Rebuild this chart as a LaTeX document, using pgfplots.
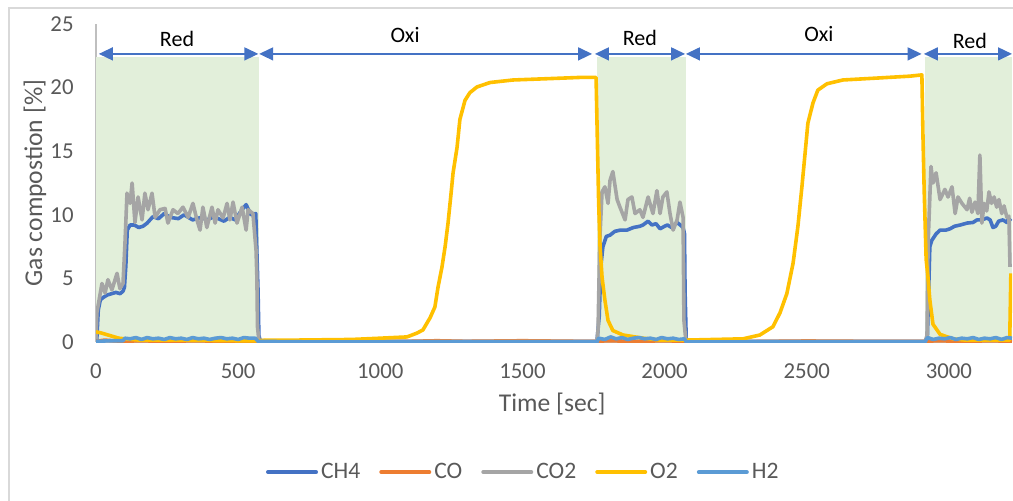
\documentclass[border=0pt]{standalone}
\usepackage{pgfplots}
\pgfplotsset{compat=1.18}
\usepackage{fontspec}
\setmainfont{Carlito}
\usetikzlibrary{arrows.meta}
\definecolor{cch}{HTML}{4472C4}
\definecolor{cco}{HTML}{ED7D31}
\definecolor{ccotwo}{HTML}{A5A5A5}
\definecolor{cot}{HTML}{FFC000}
\definecolor{chh}{HTML}{5B9BD5}
\definecolor{txtgray}{HTML}{595959}
\definecolor{axgray}{HTML}{BFBFBF}
\definecolor{bordgray}{HTML}{D9D9D9}
\definecolor{redbg}{HTML}{E2EFDA}
\begin{document}
\begin{tikzpicture}
\useasboundingbox (0,0) rectangle (506.5pt,250pt);
\draw[bordgray, line width=1pt] (4.3pt,-10pt) rectangle (530pt,246pt);
\begin{axis}[
  at={(48pt,79pt)}, anchor=south west,
  width=458pt, height=159pt, scale only axis,
  xmin=0, xmax=3222, ymin=0, ymax=25,
  xtick={0,500,...,3000}, ytick={0,5,...,25},
  major tick length=0pt,
  axis x line*=bottom, axis y line*=left,
  axis line style={-, draw=axgray, line width=1pt},
  /pgf/number format/assume math mode=true,
  /pgf/number format/1000 sep={},
  tick label style={font=\fontsize{11.4}{13}\selectfont, text=txtgray},
  xticklabel style={inner sep=0pt, yshift=-10.5pt},
  yticklabel style={inner sep=0pt, xshift=-11pt},
  xlabel={Time [sec]}, ylabel={Gas compostion [\%]},
  label style={font=\fontsize{12.8}{15}\selectfont, text=txtgray},
  xlabel style={at={(axis description cs:0.498,-0.195)}, anchor=center},
  ylabel style={at={(axis description cs:-0.0666,0.5)}, anchor=center},
  legend style={at={(axis description cs:0.467,-0.409)}, anchor=center, draw=none, fill=none,
    font=\fontsize{11.8}{13}\selectfont, text=txtgray, nodes={inner sep=1.5pt},
    /tikz/every even column/.append style={column sep=8pt}},
  legend columns=5,
  legend image code/.code={\draw[#1, line width=2pt, line cap=round] (0pt,0pt) -- (24pt,0pt);},
  every axis plot/.append style={line width=1.8pt, line join=round},
]
% shaded reduction periods
\addplot[fill=redbg, draw=none, forget plot] coordinates {(0,22.4) (573,22.4)} \closedcycle;
\addplot[fill=redbg, draw=none, forget plot] coordinates {(1762,22.4) (2075,22.4)} \closedcycle;
\addplot[fill=redbg, draw=none, forget plot] coordinates {(2916,22.4) (3222,22.4)} \closedcycle;
% CH4
\addplot[cch] coordinates {
(0,0) (3,0.3) (8,2.5) (15,3.3) (25,3.5) (40,3.7) (55,3.8) (70,3.9) (85,3.8) (95,4.0) (100,4.3) (105,6) (110,8.8)
(120,9.2) (135,9.2) (150,9.0) (165,9.1) (180,9.35) (200,9.85) (220,9.7) (240,10.1) (260,9.8) (290,9.7) (310,10.0)
(340,9.6) (370,9.8) (390,9.6) (410,9.8) (430,9.7) (450,9.5) (470,9.8) (490,9.6) (510,10.3) (528,10.8) (545,10.0)
(562,10.1) (566,7.0) (570,4) (573,0.5) (578,0.1) (700,0.05) (1000,0.05) (1300,0.05) (1600,0.05) (1762,0.05)
(1770,2) (1776,6) (1783,7.5) (1795,8.3) (1808,8.4) (1825,8.7) (1845,8.8) (1868,8.8) (1890,9.0) (1913,9.1)
(1924,9.2) (1942,9.5) (1955,9.2) (1970,9.3) (1984,8.9) (2000,9.1) (2010,9.2) (2025,9.0) (2044,9.4) (2055,9.2)
(2065,9.0) (2070,8.5) (2072,4) (2076,0.3) (2080,0.05) (2400,0.05) (2700,0.05) (2920,0.05)
(2924,0.1) (2930,5) (2933,7.5) (2940,8.0) (2955,8.5) (2969,8.8) (2990,8.8) (3004,8.9) (3020,9.1) (3040,9.2)
(3064,9.35) (3085,9.4) (3099,9.6) (3115,9.6) (3134,9.75) (3145,9.6) (3155,9.0) (3165,9.1) (3175,9.5) (3190,9.6)
(3204,9.4) (3210,9.7) (3218,9.5)
};
\addlegendentry{CH4}
% CO
\addplot[cco] coordinates {
(0,0.05) (30,0.15) (60,0.1) (100,0.05) (150,0.1) (250,0.05) (350,0.1) (450,0.05) (570,0.05) (800,0.03)
(1100,0.05) (1200,0.1) (1300,0.05) (1500,0.1) (1700,0.05) (1762,0.05) (1800,0.1) (1900,0.05) (2000,0.1) (2075,0.05)
(2300,0.03) (2500,0.08) (2700,0.05) (2916,0.05) (2960,0.1) (3050,0.05) (3150,0.1) (3222,0.05)
};
\addlegendentry{CO}
% CO2
\addplot[ccotwo] coordinates {
(0,0.2) (3,2.3) (21,4.6) (32,3.85) (42,4.9) (56,4.1) (74,5.4) (84,4.2) (95,4.6) (102,7.8) (109,11.7) (120,10.9)
(127,12.5) (137,9.4) (148,11.4) (162,9.6) (172,11.7) (183,10.4) (197,11.7) (208,9.8) (225,10.4) (243,10.5)
(253,9.35) (271,10.4) (288,10.1) (306,10.6) (324,9.8) (341,10.9) (355,9.6) (366,8.8) (376,10.6) (390,9.0)
(408,10.6) (419,9.35) (429,10.4) (447,9.75) (461,10.9) (471,9.6) (482,11.0) (496,9.35) (514,10.6) (528,8.8)
(535,10.4) (552,10.1) (563,7.2) (566,5) (568,1.2) (573,0.1) (800,0.05) (1200,0.05) (1600,0.05) (1762,0.05)
(1766,1) (1772,8) (1780,11.8) (1790,12.2) (1801,10.9) (1808,12.7) (1818,13.4) (1833,11.2) (1843,10.6) (1861,9.6)
(1871,11.2) (1885,11.4) (1896,10.1) (1913,10.4) (1924,9.8) (1942,11.4) (1959,10.1) (1973,11.9) (1984,10.1)
(1994,11.4) (2008,11.8) (2019,10.1) (2030,8.8) (2044,9.6) (2054,11.0) (2065,9.8) (2068,1.7) (2075,0.05)
(2400,0.05) (2700,0.05) (2916,0.05) (2923,0.5) (2927,7.8) (2937,13.8) (2944,12.5) (2955,13.3) (2969,11.2)
(2986,12.0) (2997,11.4) (3011,12.2) (3022,10.1) (3032,11.4) (3046,10.9) (3064,10.4) (3073,11.3) (3081,10.2)
(3092,11.0) (3102,10.1) (3109,14.7) (3116,9.35) (3124,10.9) (3133,10.3) (3141,11.8) (3150,10.9) (3159,11.4)
(3168,10.6) (3176,11.2) (3186,10.1) (3194,10.7) (3204,9.8) (3211,9.9) (3215,5.9)
};
\addlegendentry{CO2}
% O2
\addplot[cot] coordinates {
(0,0.8) (20,0.7) (50,0.5) (80,0.3) (100,0.25) (150,0.15) (300,0.15) (500,0.1) (570,0.1) (600,0.15) (700,0.15)
(900,0.2) (1000,0.3) (1094,0.4) (1129,0.7) (1150,0.95) (1175,1.9) (1192,2.75) (1203,4.3) (1217,5.9) (1228,7.5)
(1238,9.3) (1249,11.7) (1256,13.3) (1270,15.3) (1280,17.5) (1298,19.0) (1315,19.6) (1340,20.05) (1386,20.4)
(1467,20.6) (1586,20.7) (1702,20.8) (1759,20.8) (1762,17.5) (1768,11) (1773,7.5) (1780,5.1) (1790,3.3) (1801,1.7)
(1818,0.9) (1854,0.55) (1924,0.3) (1984,0.15) (2075,0.15) (2276,0.25) (2335,0.55) (2381,1.2) (2406,2.3)
(2430,3.8) (2452,6.2) (2469,9.1) (2483,12.2) (2494,14.8) (2504,17.2) (2522,18.8) (2539,19.8) (2571,20.3)
(2627,20.6) (2747,20.75) (2863,20.9) (2905,21.0) (2909,16) (2913,12) (2920,6.5) (2926,5.2) (2933,3.3)
(2944,1.4) (2969,0.6) (3014,0.25) (3057,0.15) (3150,0.15) (3214,0.15) (3218,5.4)
};
\addlegendentry{O2}
% H2
\addplot[chh] coordinates {
(0,0.05) (50,0.1) (95,0.1) (102,0.3) (120,0.25) (140,0.35) (160,0.2) (180,0.35) (200,0.25) (220,0.3) (240,0.2)
(260,0.35) (280,0.25) (300,0.3) (320,0.2) (340,0.35) (360,0.25) (380,0.3) (400,0.2) (420,0.3) (440,0.35)
(460,0.25) (480,0.3) (500,0.2) (520,0.35) (540,0.3) (560,0.3) (570,0.05) (800,0) (1200,0) (1600,0) (1762,0)
(1768,0.3) (1790,0.2) (1810,0.4) (1830,0.25) (1850,0.35) (1870,0.2) (1890,0.3) (1910,0.35) (1930,0.25)
(1950,0.3) (1970,0.2) (1990,0.35) (2010,0.25) (2030,0.3) (2050,0.2) (2070,0.25) (2076,0) (2400,0) (2700,0)
(2916,0) (2925,0.35) (2945,0.2) (2965,0.3) (2985,0.25) (3005,0.35) (3025,0.2) (3045,0.3) (3065,0.25)
(3085,0.35) (3105,0.2) (3125,0.3) (3145,0.25) (3165,0.35) (3185,0.2) (3205,0.35) (3222,0.3)
};
\addlegendentry{H2}
% phase arrows and labels
\begin{scope}[cch, line width=0.75pt, {Triangle[length=7pt,width=6.5pt]}-{Triangle[length=7pt,width=6.5pt]}]
\draw (axis cs:10,22.65) -- (axis cs:571,22.65);
\draw (axis cs:574,22.65) -- (axis cs:1745,22.65);
\draw (axis cs:1755,22.65) -- (axis cs:2072,22.65);
\draw (axis cs:2075,22.65) -- (axis cs:2904,22.65);
\draw (axis cs:2912,22.65) -- (axis cs:3222,22.65);
\end{scope}
\begin{scope}[font=\fontsize{11}{12}\selectfont, text=black]
\node at (axis cs:285,23.86) {Red};
\node at (axis cs:1087,24.1) {Oxi};
\node at (axis cs:1913,23.9) {Red};
\node at (axis cs:2543,24.2) {Oxi};
\node at (axis cs:3074,23.7) {Red};
\end{scope}
\end{axis}
\end{tikzpicture}
\end{document}
